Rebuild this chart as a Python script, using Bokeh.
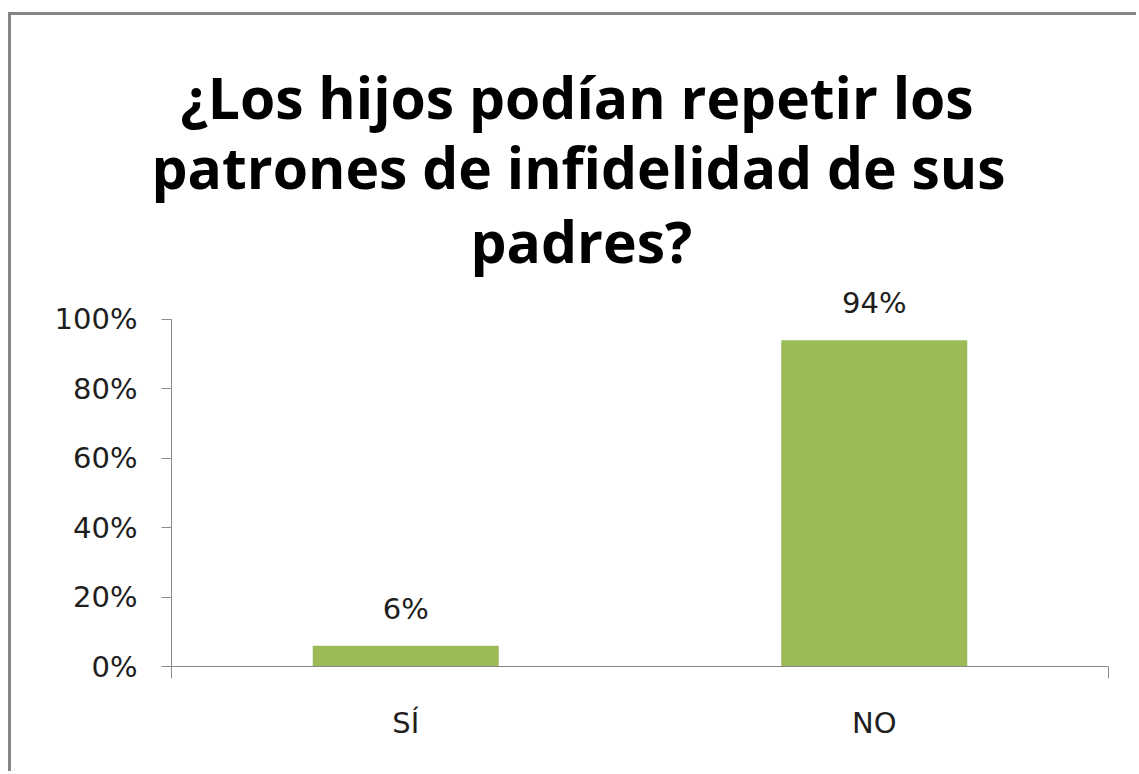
from bokeh.plotting import figure
from bokeh.models import (Range1d, FixedTicker, NumeralTickFormatter, LinearAxis,
                          Title, ColumnDataSource)
from bokeh.core.properties import value
from bokeh.embed import file_html
from bokeh.resources import INLINE

# ---- data ----
categories = ["SÍ", "NO"]
values = [0.06, 0.94]
value_labels = ["6%", "94%"]
y_ticks = [0.0, 0.2, 0.4, 0.6, 0.8, 1.0]
title_lines = ["¿Los hijos podían repetir los",
               "patrones de infidelidad de sus",
               "padres?"]

centers = [i + 0.5 for i in range(len(categories))]
bounds = [0, len(categories)]

GRAY = "#8a8a8a"
TXT = "#1e1e1e"
FONT = "DejaVu Sans"
W, H = 1128, 759

p = figure(width=W, height=H, output_backend="svg", toolbar_location=None,
           x_range=Range1d(0, len(categories)), y_range=Range1d(0, 1.144),
           x_axis_type=None, y_axis_type=None,
           min_border_left=160, min_border_right=31,
           min_border_top=254, min_border_bottom=108)
p.margin = (12, 0, 0, 8)
p.styles = {"border-left": "3px solid #858585", "border-top": "3px solid #858585"}
p.outline_line_color = None
p.background_fill_color = "white"
p.border_fill_color = "white"

# title lines: innermost added first
title_offsets = [9, -20, 299]
title_standoffs = [-28, 8, -20]
for line, off, so in reversed(list(zip(title_lines, title_offsets, title_standoffs))):
    p.add_layout(Title(text=line, align="left", offset=off, standoff=so,
                       text_font="Open Sans", text_font_style="bold",
                       text_font_size="57px", text_color="black"), "above")

# y axis
yaxis = LinearAxis(ticker=FixedTicker(ticks=y_ticks),
                   formatter=NumeralTickFormatter(format="0%"))
yaxis.bounds = (0, 1)
yaxis.axis_line_color = GRAY
yaxis.major_tick_line_color = GRAY
yaxis.major_tick_in = 0
yaxis.major_tick_out = 10
yaxis.minor_tick_line_color = None
yaxis.major_label_text_font = FONT
yaxis.major_label_text_font_size = "29px"
yaxis.major_label_text_color = TXT
yaxis.major_label_standoff = 24
p.add_layout(yaxis, "left")

# x axis (labels at category centres, ticks at outer boundaries)
xaxis = LinearAxis(ticker=FixedTicker(ticks=centers, minor_ticks=bounds))
xaxis.major_label_overrides = {c: cat for c, cat in zip(centers, categories)}
xaxis.axis_line_color = GRAY
xaxis.major_tick_line_color = None
xaxis.major_tick_in = 0
xaxis.major_tick_out = 0
xaxis.minor_tick_line_color = GRAY
xaxis.minor_tick_in = 0
xaxis.minor_tick_out = 12
xaxis.major_label_text_font = FONT
xaxis.major_label_text_font_size = "29px"
xaxis.major_label_text_color = TXT
xaxis.major_label_standoff = 27
p.add_layout(xaxis, "below")

# grid
p.ygrid.ticker = FixedTicker(ticks=y_ticks)
p.ygrid.grid_line_color = GRAY
p.ygrid.grid_line_width = 1
p.xgrid.grid_line_color = None

src = ColumnDataSource(dict(x=centers, top=values, label=value_labels))
p.vbar(x="x", top="top", width=0.397, source=src,
       fill_color="#9BBB59", line_color=None)
p.text(x="x", y="top", text="label", source=src, text_align="center",
       text_baseline="alphabetic", y_offset=-37, text_font=value(FONT),
       text_font_size="29px", text_color=TXT)

open("out.html", "w").write(file_html(p, INLINE))
